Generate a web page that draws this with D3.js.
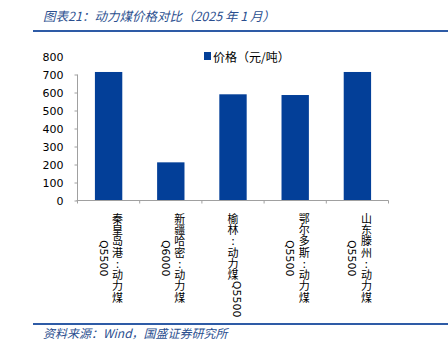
<!DOCTYPE html>
<html>
<head>
<meta charset="utf-8">
<script src="https://cdn.jsdelivr.net/npm/d3@7"></script>
<style>
  body { margin: 0; background: #fff; }
  svg { display: block; }
</style>
</head>
<body>
<svg id="chart" width="448" height="351"></svg>
<script>
// 数据
const categories = [
  ['秦皇岛港:动力煤', 'Q5500'],
  ['新疆哈密:动力煤', 'Q6000'],
  ['榆林:动力煤Q5500'],
  ['鄂尔多斯:动力煤', 'Q5500'],
  ['山东滕州:动力煤', 'Q5500']
]
const prices = [714, 212, 590, 586, 714]
const yTicks = [0, 100, 200, 300, 400, 500, 600, 700, 800]
const seriesName = '价格（元/吨）'

const blue = '#033f98'
const navy = '#2b4f8f'
const axisGrey = '#a0a0a0'
const cjk = '"Noto Sans CJK SC", sans-serif'

const svg = d3.select('#chart')

// 标题
svg.append('text')
  .attr('x', 43).attr('y', 21)
  .attr('fill', navy)
  .style('font-family', cjk)
  .style('font-size', '12.5px')
  .style('font-style', 'italic')
  .text('图表21：动力煤价格对比（2025 年 1 月）')

svg.append('line')
  .attr('x1', 33).attr('x2', 448).attr('y1', 31).attr('y2', 31)
  .attr('stroke', '#2e5ba6').attr('stroke-width', 2)

svg.append('line')
  .attr('x1', 33).attr('x2', 448).attr('y1', 324).attr('y2', 324)
  .attr('stroke', '#2e5ba6').attr('stroke-width', 2)

svg.append('text')
  .attr('x', 43).attr('y', 338)
  .attr('fill', navy)
  .style('font-family', cjk)
  .style('font-size', '12px')
  .style('font-style', 'italic')
  .text('资料来源：Wind，国盛证券研究所')

// 比例尺
const x = d3.scaleBand()
  .domain(d3.range(categories.length))
  .range([77.5, 388.5])
  .paddingInner(0.56)
  .paddingOuter(0.28)

const y = d3.scaleLinear()
  .domain([0, 800])
  .range([200.5, 56.5])

// 柱子
svg.append('g').selectAll('rect').data(prices).join('rect')
  .attr('x', (_, i) => x(i))
  .attr('width', x.bandwidth())
  .attr('y', d => y(d))
  .attr('height', d => y(0) - y(d))
  .attr('fill', blue)

// y轴
const yAxis = svg.append('g')
  .attr('transform', 'translate(77.5,0)')
  .call(d3.axisLeft(y).tickValues(yTicks).tickSize(3).tickPadding(11))
yAxis.select('.domain').remove()
yAxis.selectAll('.tick line')
  .attr('stroke', axisGrey)
  .attr('display', d => d > 700 ? 'none' : null)
yAxis.selectAll('.tick text')
  .attr('fill', '#000')
  .style('font-family', '"DejaVu Sans", sans-serif')
  .style('font-size', '11px')
yAxis.append('line')
  .attr('y1', y(0)).attr('y2', y(700))
  .attr('stroke', axisGrey)

// x轴
const step = x.step()
const xg = svg.append('g')
xg.append('line')
  .attr('x1', 76.5).attr('x2', 388.5).attr('y1', y(0)).attr('y2', y(0))
  .attr('stroke', axisGrey)
xg.selectAll('line.xtick').data(d3.range(categories.length + 1)).join('line')
  .attr('class', 'xtick')
  .attr('x1', i => 77.5 + i * step).attr('x2', i => 77.5 + i * step)
  .attr('y1', y(0)).attr('y2', y(0) + 3)
  .attr('stroke', axisGrey)

// 竖排标签: 中文直立, 字母数字旋转90度
const fs = 11
const colGap = 18
const labelTop = 213

function vtext(g, str, latin) {
  return g.append('text')
    .style('writing-mode', 'vertical-rl')
    .style('text-orientation', latin ? 'sideways' : 'upright')
    .style('font-family', latin ? '"DejaVu Sans", sans-serif' : cjk)
    .style('font-size', fs + 'px')
    .style('letter-spacing', latin ? '0px' : '0.3px')
    .text(str)
}

const lg = svg.append('g')
categories.forEach((cols, i) => {
  const cx = x(i) + x.bandwidth() / 2
  const colNodes = cols.map(str => {
    const runs = str.match(/[A-Za-z0-9]+|[^A-Za-z0-9]+/g)
    const nodes = runs.map(r => {
      const latin = /^[A-Za-z0-9]+$/.test(r)
      const t = vtext(lg, r, latin)
      return { t, len: t.node().getComputedTextLength() }
    })
    return { nodes, h: d3.sum(nodes, d => d.len) }
  })
  const H = d3.max(colNodes, c => c.h)
  colNodes.forEach((c, j) => {
    const colX = cx + (cols.length - 1) * colGap / 2 - j * colGap
    let yy = labelTop + (H - c.h) / 2
    c.nodes.forEach(n => {
      n.t.attr('x', colX).attr('y', yy)
      yy += n.len
    })
  })
})

// 图例
const leg = svg.append('g').attr('transform', 'translate(204,52)')
leg.append('rect').attr('width', 7).attr('height', 8).attr('fill', blue)
leg.append('text')
  .attr('x', 9).attr('y', 4.5)
  .attr('dominant-baseline', 'central')
  .style('font-family', cjk)
  .style('font-size', '12px')
  .text(seriesName)
</script>
</body>
</html>
